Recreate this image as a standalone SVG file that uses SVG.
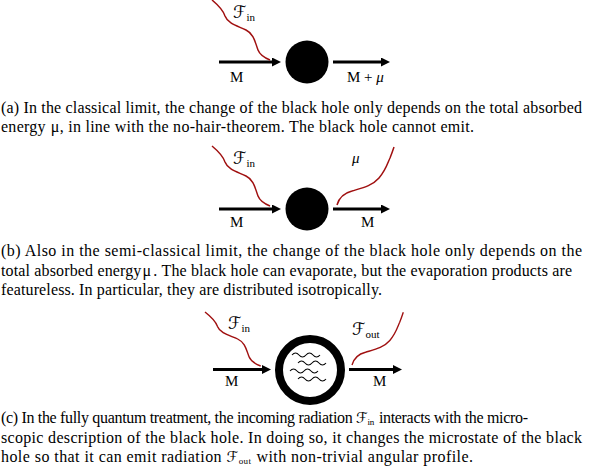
<svg xmlns="http://www.w3.org/2000/svg" width="592" height="467" viewBox="0 0 592 467">
<style>
.cap{font-family:"Liberation Serif","Times New Roman",serif;font-size:16px;fill:#000}
.lbl{font-family:"Liberation Serif","Times New Roman",serif;font-size:15px;fill:#000}
.scr{font-family:"Liberation Serif","DejaVu Serif","DejaVu Sans",serif}
.sub{font-size:11px}
.it{font-style:italic}
.shaft{stroke:#000;stroke-width:3;fill:none}
.rad{stroke:#a01010;stroke-width:1.5;fill:none}
.wave{stroke:#000;stroke-width:1.1;fill:none}
</style>
<defs>
<marker id="head" markerUnits="userSpaceOnUse" markerWidth="10" markerHeight="10" refX="0" refY="4.5" orient="auto">
<path d="M0,0 L9,4.5 L0,9 z" fill="#000"/>
</marker>
<path id="radIn" d="M0,0 C6,5 11,10 13,16 C16,24 26,26 34,30 C42,34 43,42 46,50 C48,55 53,58 58,60"/>
<path id="radOut" d="M0,0 C2,-7 7,-12 15,-14 C25,-17 35,-19 42,-27 C49,-35 51,-43 53,-47 C55,-52 56,-55 57,-58"/>
<path id="wv" d="M0,0 q3.5,-4 7,0 t7,0 t7,0 t7,0"/>
</defs>

<!-- Panel (a) -->
<g id="bh-a"><circle cx="307" cy="62" r="21.5" fill="#000"/></g>
<g id="connectors-a">
<line class="shaft" x1="219" y1="62" x2="272" y2="62" marker-end="url(#head)"/>
<line class="shaft" x1="333" y1="62" x2="381" y2="62" marker-end="url(#head)"/>
<use href="#radIn" class="rad" transform="translate(212,0)"/>
</g>
<g id="labels-a">
<text class="lbl" x="233" y="18"><tspan class="scr" font-size="17">ℱ</tspan><tspan class="sub" dy="3">in</tspan></text>
<text class="lbl" x="230" y="82">M</text>
<text class="lbl" x="347" y="82">M + <tspan class="it">μ</tspan></text>
</g>

<!-- Panel (b) -->
<g id="bh-b"><circle cx="307" cy="209" r="21.5" fill="#000"/></g>
<g id="connectors-b">
<line class="shaft" x1="219" y1="209" x2="272" y2="209" marker-end="url(#head)"/>
<line class="shaft" x1="333" y1="209" x2="381" y2="209" marker-end="url(#head)"/>
<use href="#radIn" class="rad" transform="translate(212,146)"/>
<use href="#radOut" class="rad" transform="translate(337,205)"/>
</g>
<g id="labels-b">
<text class="lbl" x="233" y="164"><tspan class="scr" font-size="17">ℱ</tspan><tspan class="sub" dy="3">in</tspan></text>
<text class="lbl it" x="352" y="163" font-size="16">μ</text>
<text class="lbl" x="230" y="227">M</text>
<text class="lbl" x="361" y="227">M</text>
</g>

<!-- Panel (c) -->
<g id="bh-c">
<circle cx="310" cy="370" r="31" fill="#fff" stroke="#000" stroke-width="8"/>
<use href="#wv" class="wave" transform="translate(292,355)"/>
<use href="#wv" class="wave" transform="translate(298,363)"/>
<use href="#wv" class="wave" transform="translate(290,371)"/>
<use href="#wv" class="wave" transform="translate(298,379)"/>
</g>
<g id="connectors-c">
<line class="shaft" x1="213" y1="369.5" x2="262" y2="369.5" marker-end="url(#head)"/>
<line class="shaft" x1="349" y1="369.5" x2="393" y2="369.5" marker-end="url(#head)"/>
<use href="#radIn" class="rad" vector-effect="non-scaling-stroke" transform="translate(205,312) scale(0.96,0.9)"/>
<use href="#radOut" class="rad" vector-effect="non-scaling-stroke" transform="translate(352,365) scale(0.9,0.91)"/>
</g>
<g id="labels-c">
<text class="lbl" x="228" y="329"><tspan class="scr" font-size="17">ℱ</tspan><tspan class="sub" dy="3">in</tspan></text>
<text class="lbl" x="352" y="335"><tspan class="scr" font-size="17">ℱ</tspan><tspan class="sub" dy="3">out</tspan></text>
<text class="lbl" x="225" y="386">M</text>
<text class="lbl" x="373" y="386">M</text>
</g>

<!-- Captions -->
<g id="captions">
<text class="cap" x="1" y="113" textLength="581" lengthAdjust="spacing">(a) In the classical limit, the change of the black hole only depends on the total absorbed</text>
<text class="cap" x="1" y="132" textLength="473" lengthAdjust="spacing">energy<tspan dx="5">μ</tspan>, in line with the no-hair-theorem. The black hole cannot emit.</text>
<text class="cap" x="1" y="256" textLength="581" lengthAdjust="spacing">(b) Also in the semi-classical limit, the change of the black hole only depends on the</text>
<text class="cap" x="1" y="276" textLength="571" lengthAdjust="spacing">total absorbed energy<tspan dx="1">μ</tspan><tspan dx="2">. The black hole can evaporate, but the evaporation products are</tspan></text>
<text class="cap" x="1" y="295" textLength="381" lengthAdjust="spacing">featureless. In particular, they are distributed isotropically.</text>
<text class="cap" x="1" y="423" textLength="527" lengthAdjust="spacing">(c) In the fully quantum treatment, the incoming radiation <tspan class="scr" font-size="15">ℱ</tspan><tspan font-size="9" dy="2">in</tspan><tspan dx="5" dy="-2">interacts with the micro-</tspan></text>
<text class="cap" x="1" y="443" textLength="581" lengthAdjust="spacing">scopic description of the black hole. In doing so, it changes the microstate of the black</text>
<text class="cap" x="1" y="462" textLength="472" lengthAdjust="spacing">hole so that it can emit radiation <tspan class="scr" font-size="15">ℱ</tspan><tspan font-size="9" dy="2">out</tspan><tspan dx="5" dy="-2">with non-trivial angular profile.</tspan></text>
</g>
</svg>
